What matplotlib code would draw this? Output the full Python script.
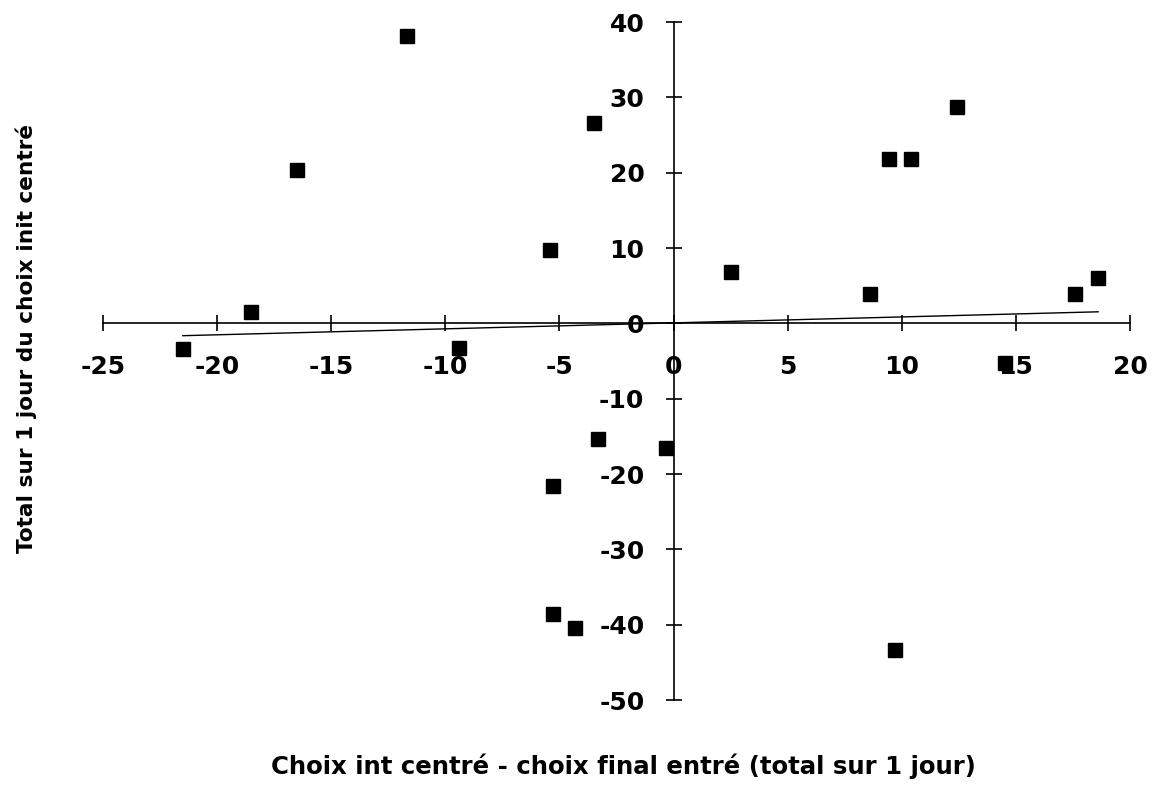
import numpy as np
import matplotlib
matplotlib.use("Agg")
import matplotlib.pyplot as plt

plt.rcParams['font.family'] = ['DejaVu Sans']
plt.rcParams['font.weight'] = 'bold'

# data
x_vals = [-21.5, -18.5, -16.5, -11.7, -9.4, -5.4, -3.5, -5.3, -3.3, -5.3, -4.3,
          -0.35, 2.5, 8.6, 9.45, 10.4, 12.4, 9.7, 14.5, 17.6, 18.6]
y_vals = [-3.45, 1.5, 20.3, 38.2, -3.3, 9.7, 26.6, -21.6, -15.4, -38.6, -40.5,
          -16.5, 6.8, 3.9, 21.8, 21.8, 28.7, -43.4, -5.2, 3.9, 6.0]
x_ticks = [-25, -20, -15, -10, -5, 0, 5, 10, 15, 20]
y_ticks = [-50, -40, -30, -20, -10, 0, 10, 20, 30, 40]
x_labels = ['-25', '-20', '-15', '-10', '-5', '0', '5', '10', '15', '20']
y_labels = ['-50', '-40', '-30', '-20', '-10', '0', '10', '20', '30', '40']

x = np.array(x_vals)
y = np.array(y_vals)

fig = plt.figure(figsize=(11.52, 7.87), dpi=100)
ax = fig.add_axes([0.0894, 0.1105, 0.8916, 0.8615])

ax.plot(x, y, 's', color='black', markersize=9.5, zorder=3)

# linear trend line
slope, inter = np.polyfit(x, y, 1)
xs = np.array([x.min(), x.max()])
ax.plot(xs, slope * xs + inter, color='black', linewidth=1.0)

ax.set_xlim(-25, 20)
ax.set_ylim(-50, 40)
ax.set_xticks(x_ticks)
ax.set_xticklabels(x_labels)
ax.set_yticks(y_ticks)
ax.set_yticklabels(y_labels)

ax.spines['left'].set_position(('data', 0))
ax.spines['bottom'].set_position(('data', 0))
ax.spines['top'].set_visible(False)
ax.spines['right'].set_visible(False)
ax.spines['left'].set_linewidth(1.2)
ax.spines['bottom'].set_linewidth(1.2)

ax.tick_params(axis='both', direction='inout', length=12, width=1.2,
               labelsize=18)
ax.tick_params(axis='x', pad=17)
ax.tick_params(axis='y', pad=15)
for lab in ax.get_xticklabels() + ax.get_yticklabels():
    lab.set_fontweight('bold')

fig.text(0.541, 0.027, 'Choix int centré - choix final entré (total sur 1 jour)',
         ha='center', va='center', fontsize=17.6, fontweight='bold')
fig.text(0.023, 0.5705, 'Total sur 1 jour du choix init centré', rotation=90,
         ha='center', va='center', fontsize=15.6, fontweight='bold')

fig.savefig('out.png', dpi=100)
